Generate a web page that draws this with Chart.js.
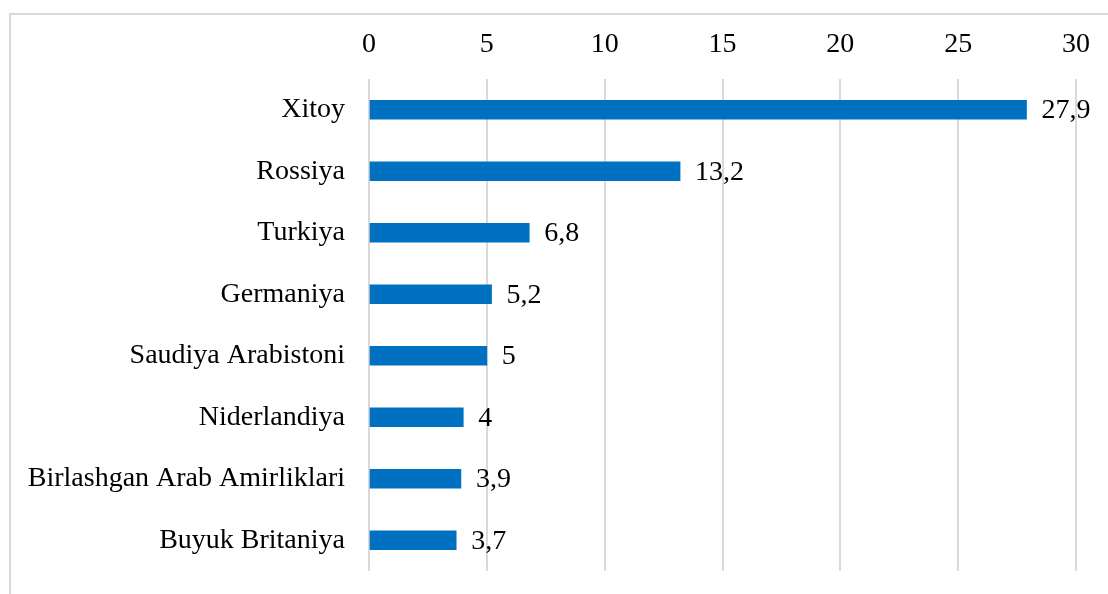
<!DOCTYPE html>
<html>
<head>
<meta charset="utf-8">
<script src="https://cdn.jsdelivr.net/npm/chart.js@4"></script>
<style>
  html, body { margin: 0; padding: 0; background: #fff; }
  #wrap { position: relative; width: 1108px; height: 594px; overflow: hidden; }
  #frame { position: absolute; left: 9px; top: 13px; right: -10px; bottom: -10px;
    border-top: 2px solid #d9d9d9; border-left: 2px solid #d9d9d9; }
  #chart { position: absolute; left: 0; top: 0; }
</style>
</head>
<body>
<div id="wrap">
  <div id="frame"></div>
  <canvas id="chart" width="1108" height="594"></canvas>
</div>
<script>
const countries = ['Xitoy', 'Rossiya', 'Turkiya', 'Germaniya', 'Saudiya Arabistoni',
  'Niderlandiya', 'Birlashgan Arab Amirliklari', 'Buyuk Britaniya'];
const shares = [27.9, 13.2, 6.8, 5.2, 5, 4, 3.9, 3.7];
const tickMin = 0, tickMax = 30, tickStep = 5;

const fontFamily = '"Liberation Serif", "Times New Roman", serif';
const fontSize = 28;

// values written right of each bar, with a decimal comma
const valueLabels = {
  id: 'valueLabels',
  afterDatasetsDraw(chart) {
    const ctx = chart.ctx;
    ctx.save();
    ctx.font = fontSize + 'px ' + fontFamily;
    ctx.fillStyle = '#000';
    ctx.textBaseline = 'middle';
    ctx.textAlign = 'left';
    chart.getDatasetMeta(0).data.forEach((bar, i) => {
      ctx.fillText(String(shares[i]).replace('.', ','), bar.x + 15, bar.y + 1);
    });
    ctx.restore();
  }
};

document.addEventListener('DOMContentLoaded', function () {
  const ctx = document.getElementById('chart').getContext('2d');
  new Chart(ctx, {
    type: 'bar',
    data: {
      labels: countries,
      datasets: [{
        data: shares,
        backgroundColor: '#0070c0',
        barThickness: 19
      }]
    },
    options: {
      indexAxis: 'y',
      responsive: false,
      animation: false,
      layout: { padding: { left: 0, right: 32, top: 0, bottom: 23 } },
      plugins: { legend: { display: false }, tooltip: { enabled: false } },
      scales: {
        x: {
          position: 'top',
          min: tickMin,
          max: tickMax,
          ticks: { stepSize: tickStep, color: '#000', padding: 18,
            font: { family: fontFamily, size: fontSize } },
          grid: { color: '#d9d9d9', lineWidth: 2, drawTicks: false },
          border: { display: false },
          afterFit: s => { s.height = 79; s.paddingLeft = 0; s.paddingRight = 0; }
        },
        y: {
          ticks: { color: '#000', padding: 24, font: { family: fontFamily, size: fontSize } },
          grid: { display: false, drawTicks: false },
          border: { display: false },
          afterFit: s => { s.width = 369; s.paddingTop = 0; s.paddingBottom = 0; }
        }
      }
    },
    plugins: [valueLabels]
  });
});
</script>
</body>
</html>
